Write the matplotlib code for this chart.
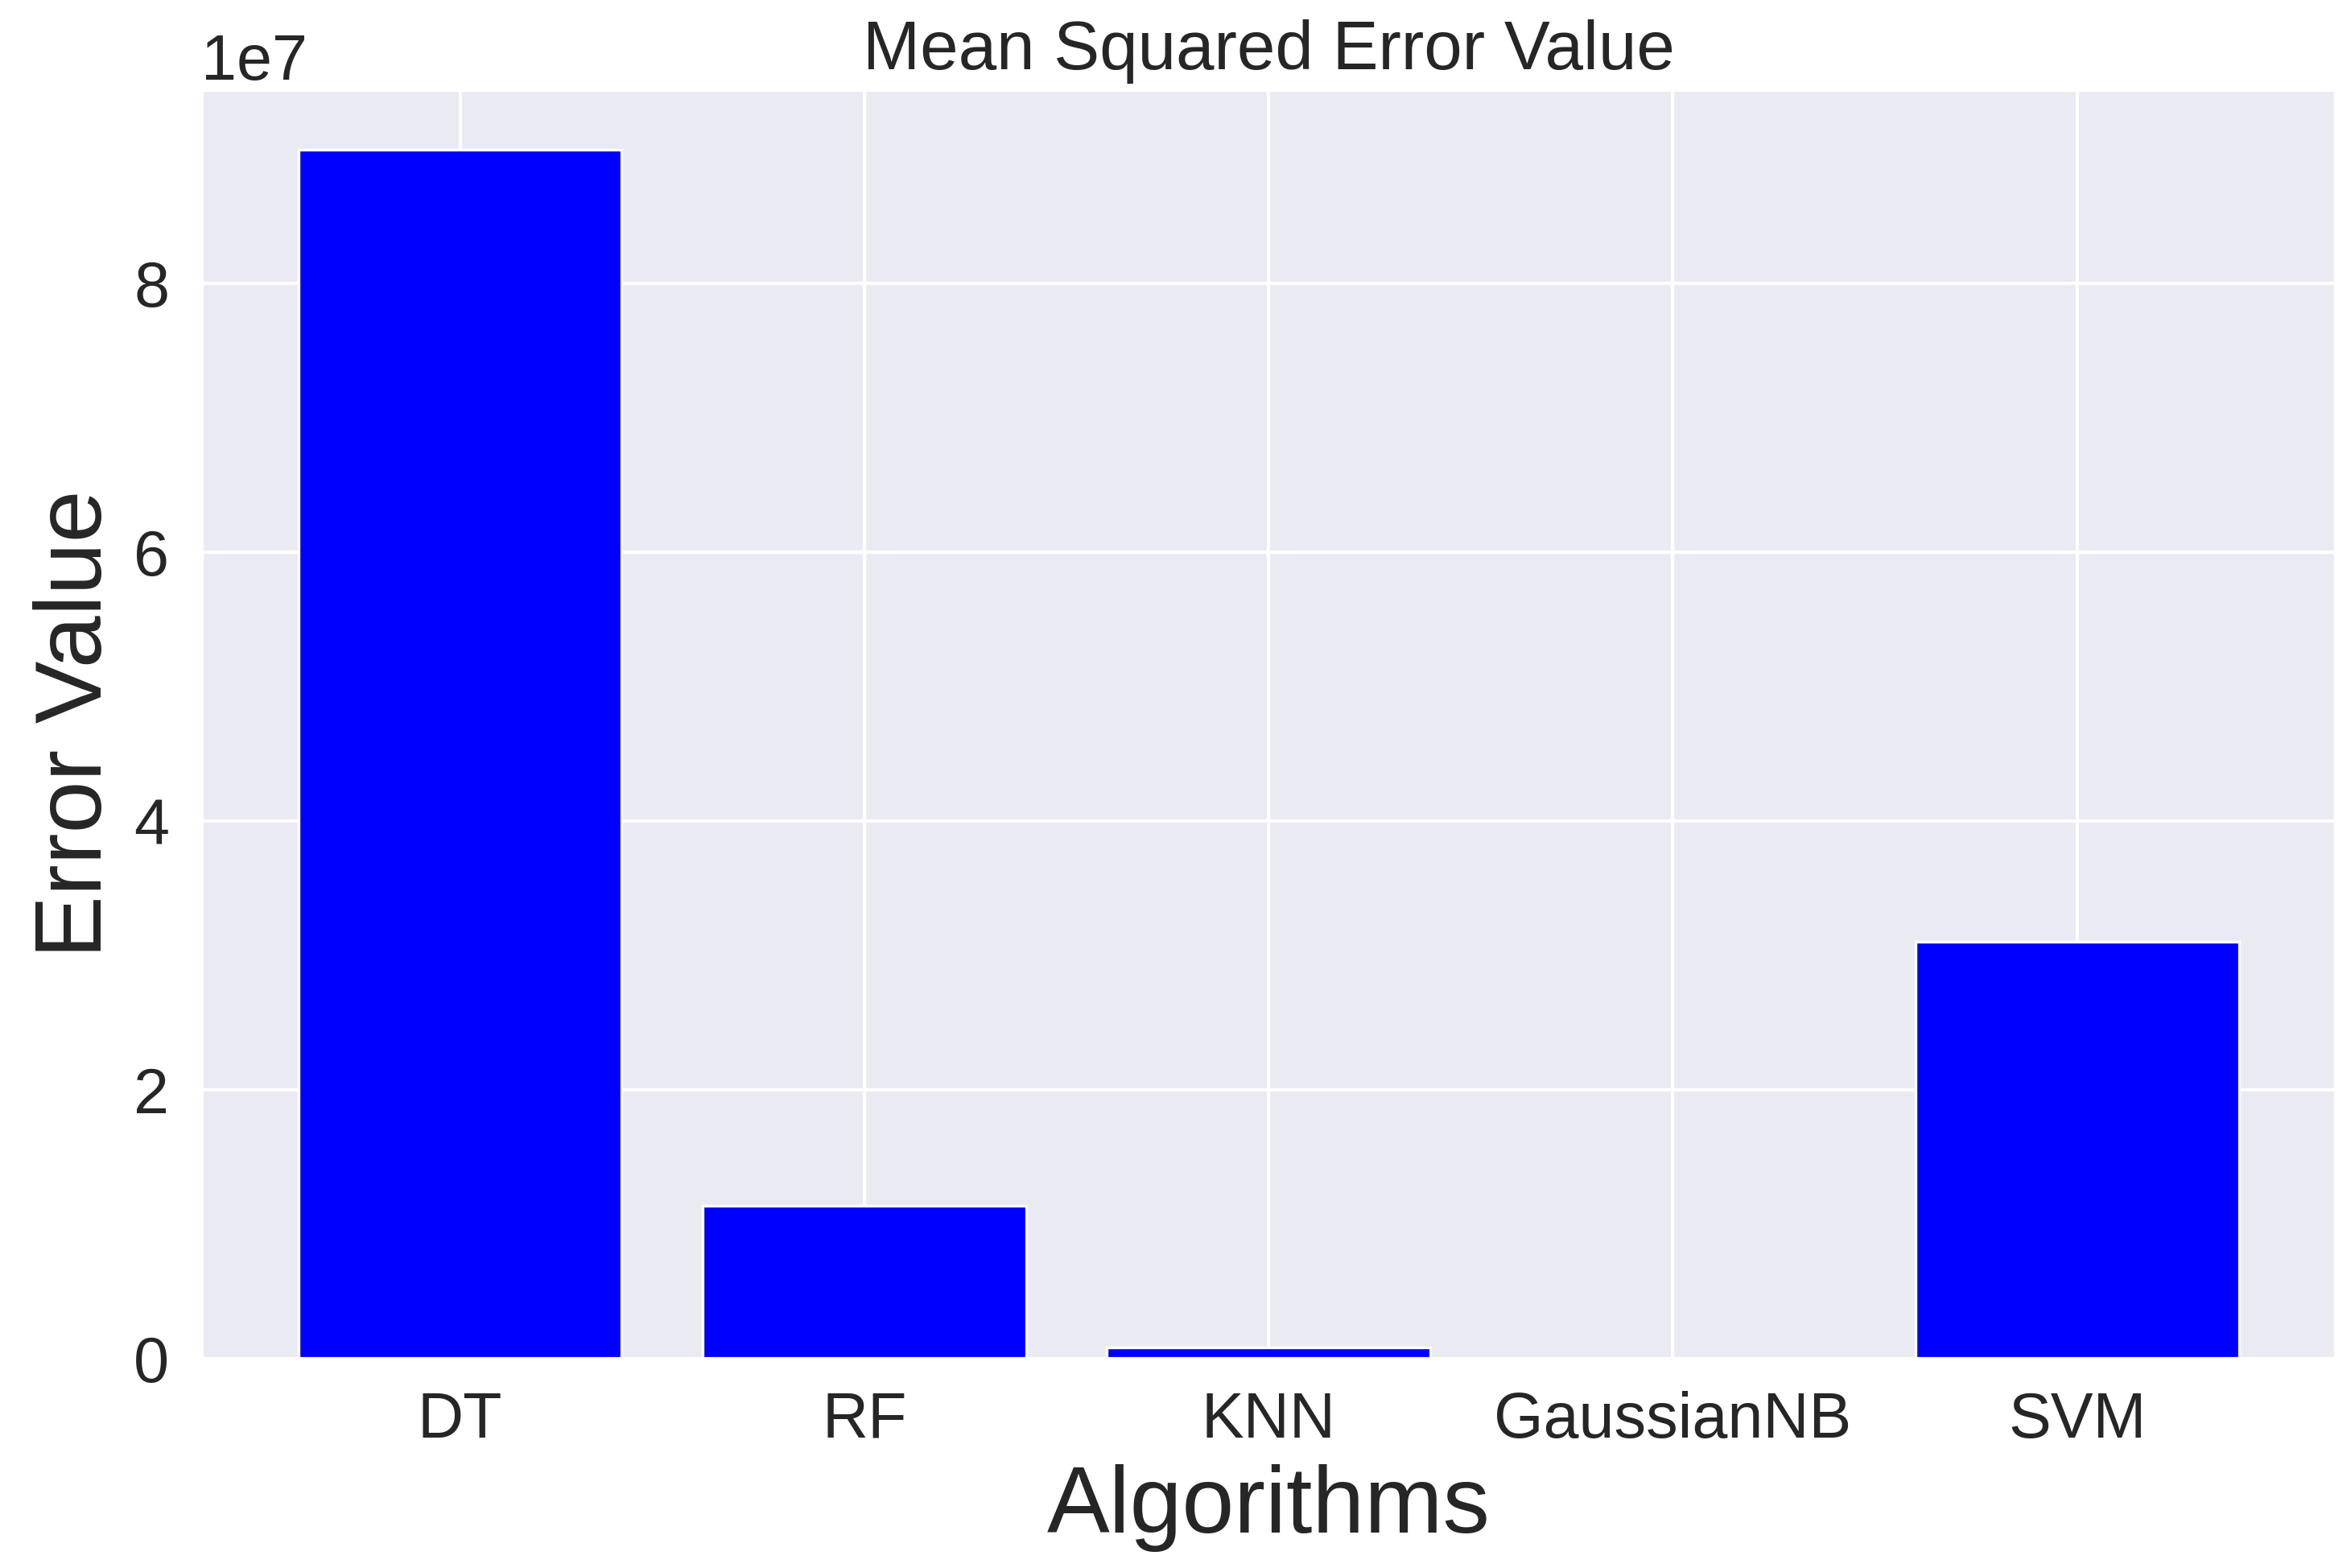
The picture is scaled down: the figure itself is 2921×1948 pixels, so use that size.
import matplotlib
matplotlib.use("Agg")
import matplotlib.pyplot as plt
import seaborn as sns

# MSE per algorithm
algorithms = ["DT", "RF", "KNN", "GaussianNB", "SVM"]
mse_values = [8.99e7, 1.14e7, 8.5e5, 0.0, 3.10e7]

sns.set_theme(style="darkgrid")
plt.rcParams['font.family'] = ['Liberation Sans', 'DejaVu Sans']

fig = plt.figure(figsize=(2921 / 300, 1948 / 300), dpi=300)
ax = fig.add_axes([0.0856, 0.1335, 0.908, 0.8095])

ax.bar(algorithms, mse_values, color="blue", width=0.8, edgecolor="white", linewidth=0.8)

ax.set_title("Mean Squared Error Value", fontsize=20.5)
ax.set_xlabel("Algorithms", fontsize=28)
ax.set_ylabel("Error Value", fontsize=28)
ax.tick_params(axis="both", labelsize=19)
ax.yaxis.get_offset_text().set_fontsize(19)

fig.savefig("out.png", dpi=300)
